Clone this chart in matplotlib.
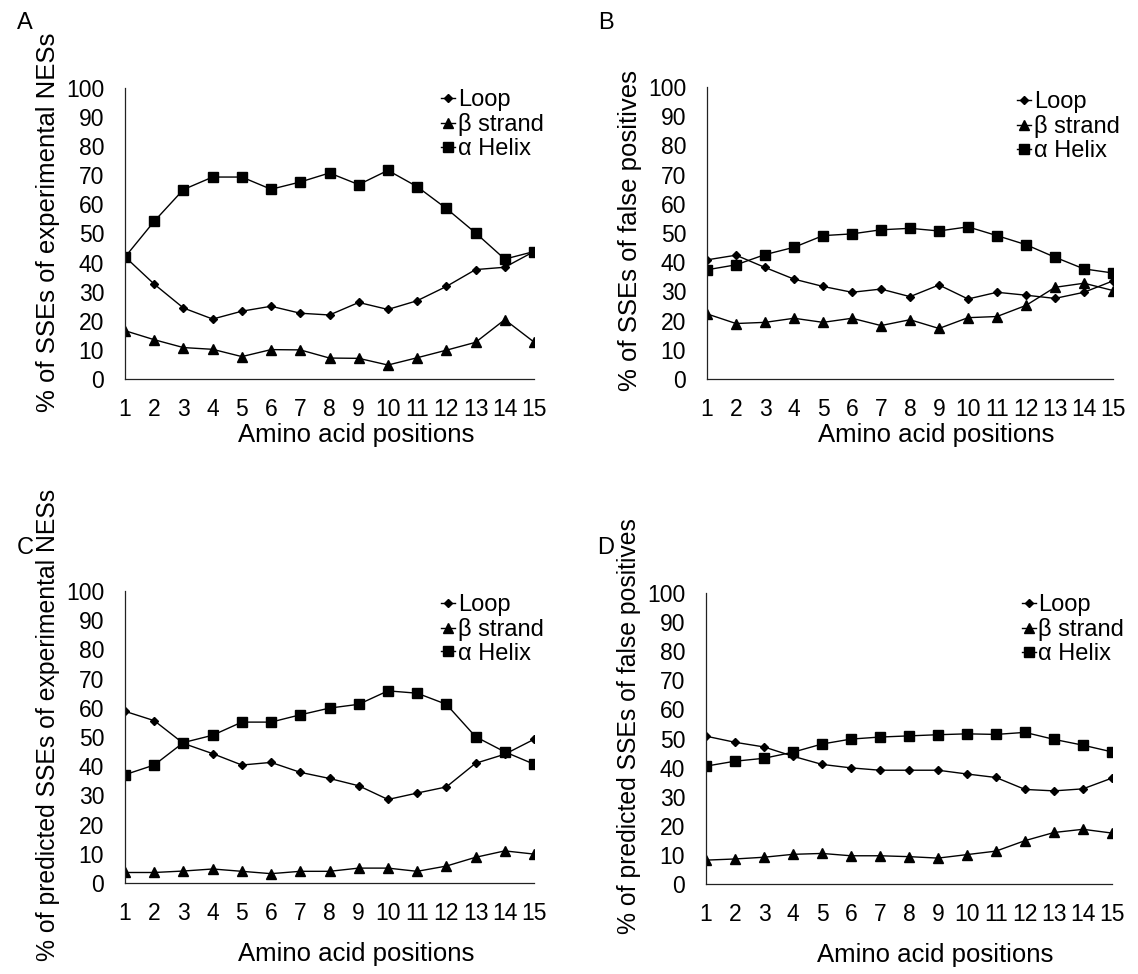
import matplotlib
matplotlib.use('Agg')
import matplotlib.pyplot as plt

plt.rcParams['font.family'] = ['Liberation Sans', 'DejaVu Sans']

positions = list(range(1, 16))
series_names = ['Loop', 'β strand', 'α Helix']

# panel A: % of SSEs of experimental NESs
a_loop = [42, 32.6, 24.4, 20.6, 23.3, 25.0, 22.6, 22.0, 26.3, 23.9, 26.9, 31.8, 37.6, 38.4, 43.8]
a_strand = [16.6, 13.5, 10.8, 10.2, 7.7, 10.1, 10.0, 7.2, 7.1, 4.8, 7.3, 9.9, 12.6, 20.4, 12.7]
a_helix = [41.9, 54.2, 65.1, 69.4, 69.4, 65.2, 67.7, 70.8, 66.8, 71.7, 66.1, 58.6, 50.2, 41.2, 43.8]

# panel B: % of SSEs of false positives
b_loop = [40.8, 42.4, 38.2, 34.2, 31.7, 29.7, 30.8, 28.2, 32.2, 27.4, 29.7, 28.7, 27.6, 29.7, 33.6]
b_strand = [22.3, 19.0, 19.4, 20.8, 19.4, 20.8, 18.3, 20.3, 17.3, 21.0, 21.4, 25.2, 31.4, 32.8, 30.3]
b_helix = [37.4, 39.1, 42.6, 45.1, 49.1, 49.7, 51.1, 51.6, 50.7, 52.1, 49.1, 46.0, 41.7, 37.7, 36.3]

# panel C: % of predicted SSEs of experimental NESs
c_loop = [58.8, 55.6, 47.8, 44.3, 40.4, 41.3, 37.9, 35.8, 33.3, 28.6, 30.8, 32.9, 41.0, 44.1, 49.2]
c_strand = [3.6, 3.6, 4.1, 4.8, 4.0, 3.2, 4.0, 4.0, 5.1, 5.1, 4.0, 5.8, 8.8, 11.0, 9.9]
c_helix = [37.1, 40.4, 48.1, 50.6, 55.1, 55.1, 57.6, 59.9, 61.2, 65.8, 65.0, 61.2, 50.1, 44.9, 40.7]

# panel D: % of predicted SSEs of false positives
d_loop = [50.8, 48.7, 47.1, 43.9, 41.1, 39.9, 39.1, 39.1, 39.1, 37.8, 36.6, 32.5, 32.0, 32.7, 36.4]
d_strand = [8.2, 8.6, 9.2, 10.2, 10.5, 9.7, 9.7, 9.4, 8.9, 10.1, 11.3, 14.9, 17.7, 18.8, 17.5]
d_helix = [40.5, 42.2, 43.2, 45.3, 48.1, 49.8, 50.5, 50.9, 51.3, 51.6, 51.4, 52.1, 49.7, 47.7, 45.4]

ylabels = ['% of SSEs of experimental NESs',
           '% of SSEs of false positives',
           '% of predicted SSEs of experimental NESs',
           '% of predicted SSEs of false positives']
letters = ['A', 'B', 'C', 'D']

W, H = 1138, 974
fig = plt.figure(figsize=(W / 100, H / 100), dpi=100)

# axes boxes in pixels: left, right, bottom, top
boxes = [(125, 534, 379, 88), (707, 1113, 379, 87),
         (125, 534, 883, 591), (706, 1112, 884, 593)]
legend_x = [0.773, 0.764, 0.773, 0.778]
legend_y = [0.995, 0.985, 0.99, 0.995]
xlabel_pad = [1, 1, 12, 12]
ylabel_y = [0.54, 0.51, 0.54, 0.543]
ylabel_fs = [18.5, 18.5, 17.8, 17.8]
letter_pos = [(25, 23), (606, 23), (25, 548), (606, 548)]

data = [(a_loop, a_strand, a_helix), (b_loop, b_strand, b_helix),
        (c_loop, c_strand, c_helix), (d_loop, d_strand, d_helix)]
markers = [('D', 4), ('^', 6.5), ('s', 6.5)]
tick_fs = 16.5
label_fs = 18.5
legend_fs = 17

for i, (l, r, b, t) in enumerate(boxes):
    ax = fig.add_axes([l / W, 1 - b / H, (r - l) / W, (b - t) / H])
    for vals, name, (m, ms) in zip(data[i], series_names, markers):
        ax.plot(positions, vals, color='black', lw=1.0, marker=m, markersize=ms, label=name)
    ax.set_xlim(1, 15)
    ax.set_ylim(0, 100)
    ax.set_xticks(positions)
    ax.set_yticks(range(0, 101, 10))
    ax.tick_params(length=0, labelsize=tick_fs)
    ax.tick_params(axis='y', pad=15)
    ax.tick_params(axis='x', pad=14)
    ax.spines['top'].set_visible(False)
    ax.spines['right'].set_visible(False)
    for s in ['left', 'bottom']:
        ax.spines[s].set_linewidth(0.9)
        ax.spines[s].set_color('#222222')
    ax.set_ylabel(ylabels[i], fontsize=ylabel_fs[i], labelpad=4)
    ax.yaxis.label.set_y(ylabel_y[i])
    ax.set_xlabel('Amino acid positions', fontsize=label_fs, labelpad=xlabel_pad[i])
    ax.xaxis.label.set_x(0.565)
    ax.legend(loc='upper left', bbox_to_anchor=(legend_x[i], legend_y[i]), frameon=False,
              fontsize=legend_fs, handlelength=0.6, handletextpad=0.1, labelspacing=0.08,
              borderpad=0, borderaxespad=0)
    lx, ly = letter_pos[i]
    fig.text(lx / W, 1 - ly / H, letters[i], fontsize=17, ha='center', va='center')

fig.savefig('out.png', dpi=100)
